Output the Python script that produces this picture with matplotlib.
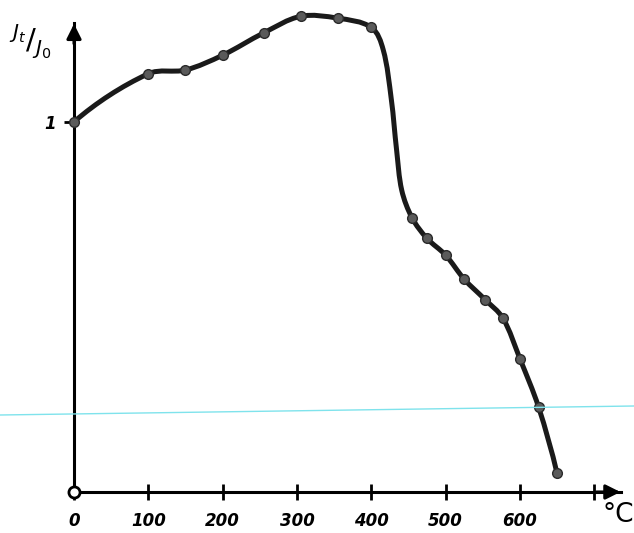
import matplotlib.pyplot as plt
import numpy as np
from matplotlib.lines import Line2D
from matplotlib.patches import PathPatch
from matplotlib.path import Path

# measured points (temperature in degC, relative intensity J_t/J_0)
temp = [0, 100, 150, 200, 255, 305, 355, 400, 455, 475, 500, 525, 553, 577, 600, 625, 650]
ratio = [1.0, 1.13, 1.14, 1.18, 1.24, 1.285, 1.28, 1.255, 0.74, 0.685, 0.64, 0.575, 0.52, 0.47, 0.36, 0.23, 0.05]

drop_temp = [416, 427, 434, 441]
drop_ratio = [1.195, 1.06, 0.925, 0.815]

xticks = [0, 100, 200, 300, 400, 500, 600, 700]
xtick_labels = ['0', '100', '200', '300', '400', '500', '600', '']

# drawing scale: pixels per degree and per unit of ratio
SX, SY = 0.743, 370.0


def smooth_path(xs, ys):
    # smooth curve through the points as cubic Bezier segments,
    # tangents from neighbours, handle length a third of the chord
    pts = np.column_stack([np.asarray(xs) * SX, np.asarray(ys) * SY])
    n = len(pts)
    unit = lambda v: v / np.linalg.norm(v)
    d = np.zeros_like(pts)
    for i in range(1, n - 1):
        d[i] = unit(pts[i + 1] - pts[i - 1])
    d[0] = unit(2 * unit(pts[1] - pts[0]) - d[1])
    d[-1] = unit(2 * unit(pts[-1] - pts[-2]) - d[-2])
    verts = [pts[0]]
    codes = [Path.MOVETO]
    for i in range(n - 1):
        L = np.linalg.norm(pts[i + 1] - pts[i])
        verts += [pts[i] + d[i] * L / 3, pts[i + 1] - d[i + 1] * L / 3, pts[i + 1]]
        codes += [Path.CURVE4] * 3
    verts = np.array(verts) / [SX, SY]
    return Path(verts, codes)


fig = plt.figure(figsize=(6.34, 5.33), dpi=100)
ax = fig.add_axes([74 / 634, 41 / 533, 547 / 634, 469 / 533])
ax.set_xlim(0, 736)
ax.set_ylim(0, 1.267)

for s in ['top', 'right']:
    ax.spines[s].set_visible(False)
for s in ['left', 'bottom']:
    ax.spines[s].set_linewidth(2.2)

# curve through the measured points plus the drop
order = np.argsort(temp + drop_temp)
all_x = np.array(temp + drop_temp)[order]
all_y = np.array(ratio + drop_ratio)[order]
curve = PathPatch(smooth_path(all_x, all_y), facecolor='none', edgecolor='#1a1a1a',
                  lw=3.6, capstyle='round', joinstyle='round', clip_on=False)
ax.add_patch(curve)
ax.plot(temp, ratio, 'o', ms=7, color='#5a5a5a', mec='#2a2a2a', mew=1, clip_on=False, zorder=3)

# open circle at the origin
ax.plot([0], [0], 'o', ms=8, mfc='white', mec='k', mew=2, clip_on=False, zorder=4)

# axis arrowheads
ax.annotate('', xy=(1.004, 0), xytext=(0.95, 0), xycoords='axes fraction',
            arrowprops=dict(arrowstyle='-|>', color='k', lw=2.2, mutation_scale=22))
ax.annotate('', xy=(0, 1.004), xytext=(0, 0.95), xycoords='axes fraction',
            arrowprops=dict(arrowstyle='-|>', color='k', lw=2.2, mutation_scale=22))

ax.set_xticks(xticks, labels=xtick_labels)
ax.tick_params(axis='x', direction='inout', length=11, width=2, pad=9)
ax.set_yticks([1], labels=['1'])
ax.tick_params(axis='y', direction='out', length=7, width=2, pad=6)
for lab in ax.get_xticklabels() + ax.get_yticklabels():
    lab.set_fontsize(12)
    lab.set_fontweight('bold')
    lab.set_fontstyle('italic')

fig.text(618 / 634, 1 - 515 / 533, '°C', fontsize=19, ha='center', va='center')

# y label J_t / J_0, written diagonally as on the sheet
fig.text(30 / 634, 1 - 42 / 533, r'$^{J_t}/_{J_0}$', fontsize=21, ha='center', va='center')

# faint scanner streak across the sheet
fig.add_artist(Line2D([0, 1], [1 - 415 / 533, 1 - 406 / 533], color='#7fe3ec', lw=1))

fig.savefig('out.png', dpi=100)
